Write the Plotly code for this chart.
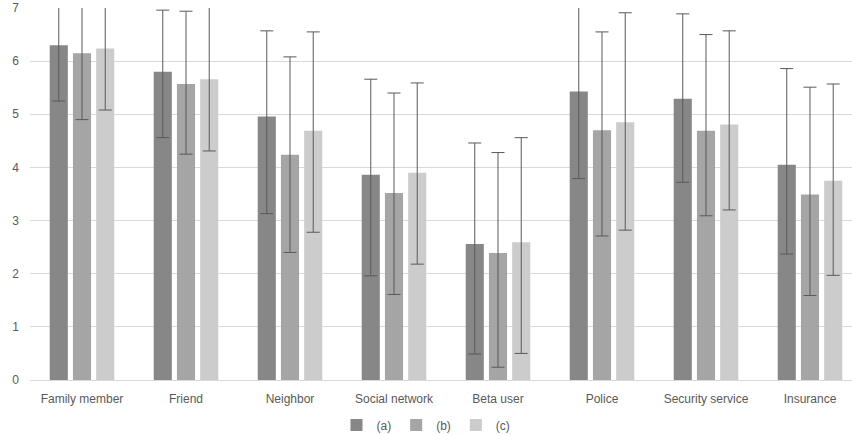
import plotly.graph_objects as go

categories = ["Family member", "Friend", "Neighbor", "Social network", "Beta user",
              "Police", "Security service", "Insurance"]
series_names = ["(a)", "(b)", "(c)"]

mean_a = [6.30, 5.80, 4.96, 3.86, 2.56, 5.43, 5.29, 4.05]
upper_a = [7.35, 6.96, 6.57, 5.66, 4.46, 7.07, 6.89, 5.86]
lower_a = [5.25, 4.56, 3.13, 1.96, 0.49, 3.79, 3.72, 2.37]

mean_b = [6.15, 5.57, 4.24, 3.52, 2.39, 4.70, 4.69, 3.49]
upper_b = [7.40, 6.94, 6.08, 5.40, 4.28, 6.55, 6.50, 5.51]
lower_b = [4.90, 4.25, 2.40, 1.61, 0.24, 2.71, 3.09, 1.59]

mean_c = [6.24, 5.66, 4.69, 3.90, 2.59, 4.85, 4.81, 3.75]
upper_c = [7.40, 7.03, 6.55, 5.59, 4.56, 6.91, 6.57, 5.57]
lower_c = [5.08, 4.31, 2.78, 2.18, 0.50, 2.82, 3.20, 1.97]

y_ticks = [0, 1, 2, 3, 4, 5, 6, 7]

colors = ["#878787", "#a5a5a5", "#cccccc"]

fig = go.Figure()
for name, m, up, lo, col in zip(series_names,
                                [mean_a, mean_b, mean_c],
                                [upper_a, upper_b, upper_c],
                                [lower_a, lower_b, lower_c],
                                colors):
    fig.add_trace(go.Bar(
        x=categories, y=m, name=name,
        marker=dict(color=col, line=dict(color=col, width=0)),
        error_y=dict(type="data", symmetric=False,
                     array=[u - v for u, v in zip(up, m)],
                     arrayminus=[v - l for v, l in zip(m, lo)],
                     color="#595959", thickness=1, width=6.5),
    ))

fig.update_layout(
    width=852, height=435,
    margin=dict(l=30, r=0, t=8, b=55, autoexpand=False),
    paper_bgcolor="white", plot_bgcolor="white",
    barmode="group", bargap=0.33, bargroupgap=0.22,
    font=dict(family="Liberation Sans, Arial, sans-serif", size=12, color="#595959"),
    showlegend=True,
    legend=dict(orientation="h", x=0.5, xanchor="center", xref="container",
                y=-0.121, yanchor="middle", yref="paper",
                font=dict(size=12, color="#595959"), itemwidth=30,
                traceorder="normal"),
    xaxis=dict(range=[-0.5, 7.404], showgrid=False, showline=False, automargin=False,
               ticks="", ticklabelstandoff=10, tickfont=dict(size=12, color="#595959")),
    yaxis=dict(range=[0, 7], tickvals=y_ticks, showgrid=True, gridcolor="#d9d9d9",
               gridwidth=1, zeroline=True, zerolinecolor="#d9d9d9", zerolinewidth=1,
               showline=False, ticks="", automargin=False, ticklabelstandoff=10,
               tickfont=dict(size=12, color="#595959")),
)

fig.write_html("out.html", config={"displayModeBar": False},
               post_script="document.body.style.margin='0';")
